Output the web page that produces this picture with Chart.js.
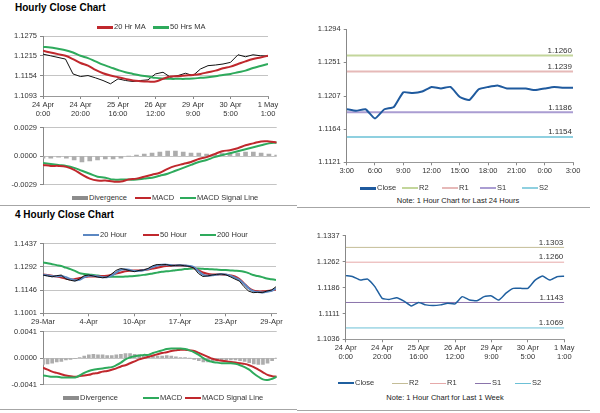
<!DOCTYPE html>
<html>
<head>
<meta charset="utf-8">
<script src="https://cdn.jsdelivr.net/npm/chart.js@4.4.0/dist/chart.umd.min.js"></script>
<style>
body { margin: 0; background: #fff; font-family: "Liberation Sans", Arial, sans-serif; }
#page { position: relative; width: 600px; height: 413px; overflow: hidden; }
canvas { position: absolute; }
.t { position: absolute; font-weight: bold; font-size: 10px; color: #000; }
.lg { position: absolute; font-size: 7.5px; color: #333; white-space: nowrap; line-height: 10px; }
.lg i { display: inline-block; width: 16px; vertical-align: middle; margin-right: 1px; }
.note { position: absolute; font-size: 7.5px; color: #222; white-space: nowrap; transform: translateX(-50%); }
.rule { position: absolute; height: 1px; background: #a6a6a6; }
</style>
</head>
<body>
<div id="page">
  <div class="t" style="left:15px;top:2px">Hourly Close Chart</div>
  <div class="t" style="left:15px;top:209px">4 Hourly Close Chart</div>

  <canvas id="hourPrice" width="290" height="92" style="left:0;top:28px"></canvas>
  <canvas id="hourMacd" width="290" height="72" style="left:0;top:120px"></canvas>
  <canvas id="dayChart" width="295" height="158" style="left:300px;top:20px"></canvas>
  <canvas id="fourPrice" width="290" height="94" style="left:0;top:236px"></canvas>
  <canvas id="fourMacd" width="290" height="68" style="left:0;top:324px"></canvas>
  <canvas id="weekChart" width="290" height="136" style="left:300px;top:226px"></canvas>

  <div class="note" style="left:458px;top:196px">Note: 1 Hour Chart for Last 24 Hours</div>
  <div class="note" style="left:445px;top:393px">Note: 1 Hour Chart for Last 1 Week</div>

  <div class="rule" style="left:0;top:205px;width:297px"></div>
  <div class="rule" style="left:297px;top:207px;width:293px"></div>
  <div class="rule" style="left:0;top:409px;width:297px"></div>
  <div class="rule" style="left:297px;top:410px;width:293px"></div>
</div>

<script>
Chart.defaults.font.family = '"Liberation Sans", Arial, sans-serif';

// ---- Hourly close chart (every 4 h, 24 Apr 0:00 -> 1 May 1:00)
const hourTicks = [["24 Apr", "0:00"], ["24 Apr", "20:00"], ["25 Apr", "16:00"], ["26 Apr", "12:00"], ["29 Apr", "9:00"], ["30 Apr", "5:00"], ["1 May", "1:00"]];
const hourTickAt = [0, 5, 10, 15, 20, 25, 30];
const hourClose = [1.1220, 1.1215, 1.1210, 1.1205, 1.1160, 1.1152, 1.1155, 1.1148, 1.1140, 1.1130, 1.1145,
    1.1140, 1.1137, 1.1140, 1.1142, 1.1160, 1.1165, 1.1150, 1.1155, 1.1162, 1.1155,
    1.1175, 1.1185, 1.1187, 1.1190, 1.1195, 1.1218, 1.1212, 1.1218, 1.1215, 1.1214];
const ma20Hr = [1.1230, 1.1225, 1.1220, 1.1215, 1.1205, 1.1193, 1.1185, 1.1172, 1.1162, 1.1155, 1.1150,
    1.1145, 1.1140, 1.1138, 1.1137, 1.1137, 1.1145, 1.1152, 1.1153, 1.1155, 1.1157,
    1.1160, 1.1165, 1.1170, 1.1177, 1.1182, 1.1190, 1.1198, 1.1205, 1.1210, 1.1215];
const ma50Hr = [1.1242, 1.1240, 1.1236, 1.1232, 1.1225, 1.1215, 1.1208, 1.1198, 1.1188, 1.1180, 1.1172,
    1.1165, 1.1160, 1.1155, 1.1152, 1.1148, 1.1146, 1.1145, 1.1145, 1.1145, 1.1146,
    1.1148, 1.1150, 1.1153, 1.1157, 1.1160, 1.1165, 1.1170, 1.1178, 1.1184, 1.1190];
const hourY = [1.1093, 1.1154, 1.1215, 1.1275];

const hourMacd = [-0.0009, -0.0010, -0.0010, -0.0011, -0.0014, -0.0019, -0.0023, -0.0025, -0.0025, -0.0026, -0.0026,
    -0.0024, -0.0023, -0.0021, -0.0019, -0.0017, -0.0013, -0.0010, -0.0008, -0.0006, -0.0003,
    -0.0001, 0.0002, 0.0005, 0.0006, 0.0008, 0.0011, 0.0013, 0.0015, 0.0015, 0.0014];
const hourSignal = [-0.0007, -0.0008, -0.0009, -0.0010, -0.0012, -0.0015, -0.0018, -0.0021, -0.0022, -0.0024, -0.0024,
    -0.0024, -0.0024, -0.0023, -0.0022, -0.0020, -0.0018, -0.0015, -0.0012, -0.0009, -0.0006,
    -0.0004, -0.0001, 0.0001, 0.0003, 0.0005, 0.0007, 0.0009, 0.0011, 0.0013, 0.0014];
const hourDiv = [-0.0002, -0.0002, -0.0001, -0.0002, -0.0004, -0.0006, -0.0005, -0.0004, -0.0003, -0.0003, -0.0002,
    0.0000, 0.0001, 0.0002, 0.0003, 0.0004, 0.0005, 0.0005, 0.0004, 0.0003, 0.0003,
    0.0002, 0.0002, 0.0003, 0.0003, 0.0003, 0.0004, 0.0004, 0.0003, 0.0002, 0.0001];
const hourMacdY = [-0.0029, 0, 0.0029];

// ---- Last 24 hours (hourly, 3:00 -> 3:00)
const dayTicks = ["3:00", "6:00", "9:00", "12:00", "15:00", "18:00", "21:00", "0:00", "3:00"];
const dayTickAt = [0, 3, 6, 9, 12, 15, 18, 21, 24];
const dayClose = [1.1190, 1.1188, 1.1190, 1.1178, 1.1190, 1.1193, 1.1212, 1.1211, 1.1213, 1.1219, 1.1217, 1.1219, 1.1206,
    1.1202, 1.1216, 1.1219, 1.1221, 1.1217, 1.1217, 1.1217, 1.1215, 1.1217, 1.1219, 1.1218, 1.1218];
const dayY = [1.1121, 1.1164, 1.1207, 1.1251, 1.1294];
const levelNames = ["R2", "R1", "S1", "S2"];
const dayLevels = [1.1260, 1.1239, 1.1186, 1.1154];
const dayLevelColors = ["#c3d69b", "#e6b9b8", "#aa9dd2", "#8fd0e0"];

// ---- 4 hourly close chart (29-Mar -> 29-Apr)
const fourTicks = ["29-Mar", "4-Apr", "10-Apr", "17-Apr", "23-Apr", "29-Apr"];
const fourTickAt = [0, 10, 20, 30, 40, 50];
const fourClose = [1.1240, 1.1234, 1.1229, 1.1236, 1.1240, 1.1215, 1.1207, 1.1202, 1.1215, 1.1236, 1.1240,
    1.1234, 1.1227, 1.1223, 1.1227, 1.1246, 1.1269, 1.1281, 1.1275, 1.1267, 1.1261,
    1.1269, 1.1271, 1.1281, 1.1298, 1.1306, 1.1304, 1.1306, 1.1298, 1.1300, 1.1302,
    1.1298, 1.1294, 1.1285, 1.1250, 1.1231, 1.1234, 1.1240, 1.1244, 1.1246, 1.1242,
    1.1229, 1.1215, 1.1202, 1.1167, 1.1140, 1.1130, 1.1132, 1.1130, 1.1140, 1.1146, 1.1167];
const ma20 = [1.1242, 1.1238, 1.1233, 1.1232, 1.1234, 1.1226, 1.1216, 1.1208, 1.1210, 1.1225, 1.1235,
    1.1236, 1.1232, 1.1227, 1.1226, 1.1236, 1.1255, 1.1272, 1.1276, 1.1272, 1.1265,
    1.1266, 1.1270, 1.1277, 1.1290, 1.1300, 1.1304, 1.1305, 1.1302, 1.1300, 1.1301,
    1.1300, 1.1297, 1.1290, 1.1265, 1.1242, 1.1235, 1.1238, 1.1242, 1.1245, 1.1244,
    1.1236, 1.1224, 1.1210, 1.1185, 1.1158, 1.1140, 1.1134, 1.1131, 1.1135, 1.1142, 1.1155];
const ma50 = [1.1244, 1.1240, 1.1236, 1.1231, 1.1225, 1.1219, 1.1213, 1.1215, 1.1221, 1.1227, 1.1231,
    1.1231, 1.1231, 1.1234, 1.1236, 1.1242, 1.1250, 1.1256, 1.1263, 1.1267, 1.1269,
    1.1269, 1.1271, 1.1275, 1.1281, 1.1285, 1.1292, 1.1296, 1.1298, 1.1300, 1.1300,
    1.1298, 1.1294, 1.1285, 1.1271, 1.1256, 1.1248, 1.1244, 1.1244, 1.1244, 1.1242,
    1.1238, 1.1231, 1.1215, 1.1188, 1.1161, 1.1144, 1.1138, 1.1138, 1.1140, 1.1144, 1.1150];
const ma200 = [1.1319, 1.1314, 1.1308, 1.1302, 1.1296, 1.1286, 1.1277, 1.1266, 1.1252, 1.1247, 1.1243,
    1.1240, 1.1237, 1.1233, 1.1229, 1.1229, 1.1229, 1.1229, 1.1231, 1.1232, 1.1234,
    1.1237, 1.1241, 1.1245, 1.1250, 1.1255, 1.1260, 1.1263, 1.1266, 1.1270, 1.1273,
    1.1277, 1.1280, 1.1281, 1.1281, 1.1279, 1.1277, 1.1276, 1.1274, 1.1272, 1.1271,
    1.1269, 1.1267, 1.1265, 1.1260, 1.1252, 1.1240, 1.1234, 1.1227, 1.1219, 1.1214, 1.1209];
const fourY = [1.1001, 1.1146, 1.1292, 1.1437];

const fourMacd = [-0.0027, -0.0028, -0.0029, -0.0029, -0.0030, -0.0030, -0.0030, -0.0030, -0.0027, -0.0023, -0.0020,
    -0.0018, -0.0017, -0.0016, -0.0015, -0.0014, -0.0011, -0.0007, -0.0002, 0.0001, 0.0003,
    0.0004, 0.0005, 0.0005, 0.0008, 0.0010, 0.0012, 0.0014, 0.0015, 0.0015, 0.0015,
    0.0014, 0.0012, 0.0009, 0.0005, 0.0000, -0.0004, -0.0006, -0.0007, -0.0008, -0.0008,
    -0.0008, -0.0009, -0.0011, -0.0014, -0.0018, -0.0024, -0.0029, -0.0033, -0.0034, -0.0032, -0.0029];
const fourSignal = [-0.0015, -0.0018, -0.0021, -0.0023, -0.0025, -0.0027, -0.0028, -0.0029, -0.0028, -0.0027, -0.0026,
    -0.0024, -0.0023, -0.0021, -0.0020, -0.0018, -0.0016, -0.0013, -0.0011, -0.0008, -0.0005,
    -0.0002, 0.0000, 0.0002, 0.0004, 0.0006, 0.0008, 0.0009, 0.0011, 0.0012, 0.0013,
    0.0013, 0.0012, 0.0011, 0.0008, 0.0005, 0.0002, -0.0001, -0.0003, -0.0004, -0.0005,
    -0.0006, -0.0007, -0.0008, -0.0009, -0.0011, -0.0014, -0.0018, -0.0022, -0.0026, -0.0028, -0.0029];
const fourDiv = [-0.0010, -0.0009, -0.0008, -0.0006, -0.0005, -0.0003, -0.0002, -0.0001, 0.0001, 0.0003, 0.0005,
    0.0006, 0.0005, 0.0005, 0.0004, 0.0004, 0.0005, 0.0006, 0.0007, 0.0007, 0.0006,
    0.0005, 0.0004, 0.0003, 0.0003, 0.0003, 0.0003, 0.0004, 0.0003, 0.0002, 0.0001,
    0.0001, 0.0000, -0.0002, -0.0004, -0.0006, -0.0006, -0.0005, -0.0004, -0.0004, -0.0003,
    -0.0003, -0.0003, -0.0004, -0.0005, -0.0007, -0.0009, -0.0010, -0.0010, -0.0008, -0.0004, 0.0000];
const fourMacdY = [-0.0041, 0, 0.0041];

// ---- Last 1 week (every 4 h, same span as hourly chart)
const weekClose = [1.1221, 1.1218, 1.1208, 1.1211, 1.1189, 1.1155, 1.1152, 1.1157, 1.1147, 1.1133, 1.1143,
    1.1136, 1.1134, 1.1136, 1.1141, 1.1139, 1.1160, 1.1150, 1.1148, 1.1160, 1.1162,
    1.1150, 1.1170, 1.1184, 1.1184, 1.1184, 1.1208, 1.1220, 1.1208, 1.1218, 1.1219];
const weekY = [1.1036, 1.1111, 1.1186, 1.1262, 1.1337];
const weekLevels = [1.1303, 1.1260, 1.1143, 1.1069];
const weekLevelColors = ["#c4bd97", "#e6a9a9", "#8a74ab", "#6cc0d6"];

const RED = "#c0282d", GREEN = "#2eaa5c", GREY = "#8c8c8c";

// punkty na osi liniowej (indeks -> wartość)
const pts = arr => arr.map((v, i) => ({ x: i, y: v }));

function yAxis(ticks, width, grid) {
    return {
        min: ticks[0], max: ticks[ticks.length - 1],
        afterBuildTicks: s => { s.ticks = ticks.map(v => ({ value: v })); },
        afterFit: s => { s.width = width; },
        ticks: { callback: v => v.toFixed(4), font: { size: 7.5 }, color: "#333", padding: 3 },
        grid: { drawOnChartArea: grid, color: "#c4c4c4", tickLength: 3, tickColor: "#888" },
        border: { color: "#888" }
    };
}

function xAxis(n, at, labels, height) {
    return {
        type: "linear", min: 0, max: n - 1, offset: false,
        display: labels !== null,
        afterBuildTicks: s => { s.ticks = at.map(v => ({ value: v })); },
        afterFit: s => { s.height = height; },
        ticks: { autoSkip: false, maxRotation: 0, callback: (v, i) => labels[i], font: { size: 7.5 }, color: "#333", padding: 1 },
        grid: { drawOnChartArea: false, tickLength: 3, color: "#888" },
        border: { color: "#999" }
    };
}

function line(data, color, width, order, tension) {
    return { type: "line", data: pts(data), borderColor: color, borderWidth: width, pointRadius: 0, tension: tension, order: order };
}

function bars(data, thick) {
    return { type: "bar", data: pts(data), backgroundColor: "#adadad", barThickness: thick, order: 5 };
}

// opisy poziomów (R2, R1, S1, S2) nad prawą krawędzią
const levelText = {
    id: "levelText",
    afterDatasetsDraw(chart) {
        const { ctx, chartArea } = chart;
        const y = chart.scales.y;
        chart.data.datasets.forEach(d => {
            if (d.level === undefined) return;
            ctx.save();
            ctx.font = '8px "Liberation Sans", Arial, sans-serif';
            ctx.fillStyle = "#333";
            ctx.textAlign = "right";
            ctx.textBaseline = "bottom";
            ctx.fillText(d.level.toFixed(4), chartArea.right - 1, y.getPixelForValue(d.level) - 1);
            ctx.restore();
        });
    }
};

function levelLines(values, colors, last, width) {
    return values.map((v, k) => ({
        type: "line", label: levelNames[k], level: v,
        data: [{ x: 0, y: v }, { x: last, y: v }],
        borderColor: colors[k], borderWidth: width, pointRadius: 0, order: 4
    }));
}

function makeChart(id, datasets, padding, scales, plugins) {
    return new Chart(document.getElementById(id).getContext("2d"), {
        type: "line",
        data: { datasets: datasets },
        options: {
            responsive: false, animation: false, events: [],
            layout: { padding: padding },
            plugins: { legend: { display: false }, tooltip: { enabled: false } },
            scales: scales
        },
        plugins: plugins || []
    });
}

makeChart("hourPrice",
    [line(hourClose, "#111", 1, 3, 0), line(ma50Hr, GREEN, 2, 2, 0.4), line(ma20Hr, RED, 2, 1, 0.4)],
    { left: 0, top: 8, right: 22, bottom: 2 },
    { x: xAxis(hourClose.length, hourTickAt, hourTicks, 22), y: yAxis(hourY, 43, true) });

makeChart("hourMacd",
    [bars(hourDiv, 4), line(hourSignal, GREEN, 2, 2, 0.4), line(hourMacd, RED, 2, 1, 0.4)],
    { left: 0, top: 7.7, right: 13.3, bottom: 5.3 },
    { x: xAxis(hourMacd.length, [], null, 0), y: yAxis(hourMacdY, 43, true) });

makeChart("dayChart",
    levelLines(dayLevels, dayLevelColors, dayClose.length - 1, 2).concat([line(dayClose, "#1f5a9e", 2, 1, 0.15)]),
    { left: 0, top: 9.3, right: 22, bottom: 1.7 },
    { x: xAxis(dayClose.length, dayTickAt, dayTicks, 14), y: yAxis(dayY, 46.7, false) },
    [levelText]);

makeChart("fourPrice",
    [line(ma200, GREEN, 2, 4, 0.4), line(ma50, RED, 2, 3, 0.4), line(ma20, "#5b87c2", 2, 2, 0.3), line(fourClose, "#111", 1, 1, 0)],
    { left: 0, top: 7.3, right: 14, bottom: 2.7 },
    { x: xAxis(fourClose.length, fourTickAt, fourTicks, 14), y: yAxis(fourY, 43, true) });

makeChart("fourMacd",
    [bars(fourDiv, 3), line(fourSignal, RED, 2, 2, 0.4), line(fourMacd, GREEN, 2, 1, 0.4)],
    { left: 0, top: 7.7, right: 13.3, bottom: 4.7 },
    { x: xAxis(fourMacd.length, [], null, 0), y: yAxis(fourMacdY, 43, true) });

makeChart("weekChart",
    levelLines(weekLevels, weekLevelColors, weekClose.length - 1, 1).concat([line(weekClose, "#1f5f9f", 1.5, 1, 0.15)]),
    { left: 0, top: 9.7, right: 25.7, bottom: 1.7 },
    { x: xAxis(weekClose.length, hourTickAt, hourTicks, 21), y: yAxis(weekY, 45.7, false) },
    [levelText]);

// legendy (HTML)
function legend(y, items) {
    const page = document.getElementById("page");
    items.forEach(([x, color, thick, text]) => {
        const el = document.createElement("div");
        el.className = "lg";
        el.style.left = x + "px";
        el.style.top = (y - 5) + "px";
        el.innerHTML = '<i style="height:' + thick + 'px;background:' + color + '"></i>' + text;
        page.appendChild(el);
    });
}

legend(27, [[97, RED, 3, "20 Hr MA"], [153, GREEN, 3, "50 Hrs MA"]]);
legend(198, [[72, GREY, 4, "Divergence"], [135, RED, 2, "MACD"], [180, GREEN, 2, "MACD Signal Line"]]);
legend(188, [[360, "#1f5a9e", 3, "Close"], [402, dayLevelColors[0], 2, levelNames[0]], [442, dayLevelColors[1], 2, levelNames[1]],
    [480, dayLevelColors[2], 2, levelNames[2]], [522, dayLevelColors[3], 2, levelNames[3]]]);
legend(235, [[83, "#5b87c2", 2, "20 Hour"], [143, RED, 2, "50 Hour"], [200, GREEN, 2, "200 Hour"]]);
legend(398, [[63, GREY, 4, "Divergence"], [143, GREEN, 2, "MACD"], [185, RED, 2, "MACD Signal Line"]]);
legend(383, [[338, "#1f5f9f", 2, "Close"], [392, weekLevelColors[0], 1, levelNames[0]], [430, weekLevelColors[1], 1, levelNames[1]],
    [475, weekLevelColors[2], 1, levelNames[2]], [515, weekLevelColors[3], 1, levelNames[3]]]);
</script>
</body>
</html>
